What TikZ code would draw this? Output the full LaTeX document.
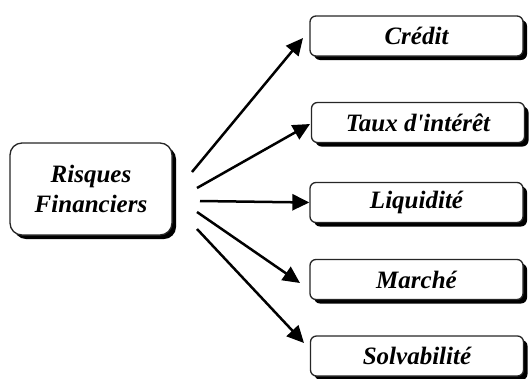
\documentclass[tikz,border=0pt]{standalone}
\usepackage{fontspec}
\setmainfont{Liberation Serif}
\usetikzlibrary{arrows.meta,shadows}
\begin{document}
\begin{tikzpicture}[x=1pt,y=-1pt,
  box/.style={draw=black!85,line width=1.3pt,fill=white,rounded corners=6pt,
    minimum width=213pt,minimum height=40pt,inner sep=0pt,
    font=\fontsize{25}{30}\selectfont\bfseries\itshape,
    drop shadow={shadow xshift=4pt,shadow yshift=-4pt,opacity=1,fill=black}},
  bigbox/.style={box,rounded corners=12pt,minimum width=162pt,minimum height=92pt,align=center},
  arr/.style={line width=2.5pt,-{Triangle[length=17pt,width=16pt]}}]
\useasboundingbox (0,0) rectangle (529,378);
\node[bigbox] (risk) at (91,189) {Risques\\Financiers};
\node[box] (credit) at (416.5,36) {Crédit};
\node[box] (taux) at (418,122.5) {Taux d\textquotesingle intérêt};
\node[box] (liq) at (416.5,202.5) {Liquidité};
\node[box] (marche) at (416.5,279.5) {Marché};
\node[box] (solv) at (417,356) {Solvabilité};
\coordinate (s1) at (192,172);
\coordinate (s2) at (197,188);
\coordinate (s3) at (200,201);
\coordinate (s4) at (197,212);
\coordinate (s5) at (197,229);
\coordinate (t1) at (303,38);
\coordinate (t2) at (310,124);
\coordinate (t3) at (liq.west);
\coordinate (t4) at (300,283);
\coordinate (t5) at (304,343);
\draw[arr] (s1) -- (t1);
\draw[arr] (s2) -- (t2);
\draw[arr] (s3) -- (t3);
\draw[arr] (s4) -- (t4);
\draw[arr] (s5) -- (t5);
\end{tikzpicture}
\end{document}
